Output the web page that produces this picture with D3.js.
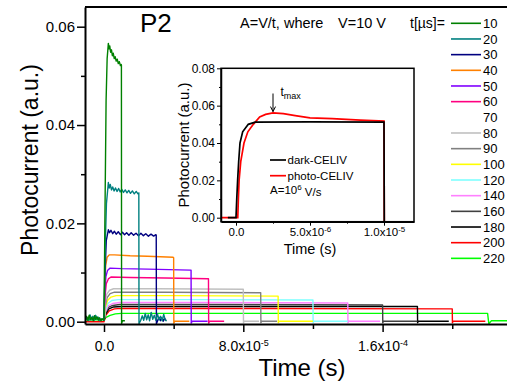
<!DOCTYPE html>
<html><head><meta charset="utf-8">
<script src="https://cdn.jsdelivr.net/npm/d3@7"></script>
<style>
body{margin:0;background:#fff;}
svg{display:block;font-family:"Liberation Sans",Arial,sans-serif;}
</style>
</head><body>
<svg id="c" width="507" height="387"></svg>
<script>
// ---------- DATA ----------
const durations = [10,20,30,40,50,60,70,80,90,100,120,140,160,180,200,220];   // t [µs]
const colors = ["#008000","#008080","#000080","#ff8000","#8000ff","#ff0080","#ffffff","#c0c0c0",
                "#808080","#ffff00","#80ffff","#ff80ff","#404040","#000000","#ff0000","#00ff00"];

// traces: [time (µs), photocurrent (a.u.)]
const trace10 = [[-11,0.0005],[-10,0.0011],[-9.3,0.0003],[-8.5,0.0013],[-7.8,0.0004],[-7,0.0009],[-6.2,0.0002],[-5.5,0.0012],[-4.8,0.0005],[-4,0.001],[-3.2,0.0003],[-2.5,0.0008],[-1.7,0.0002],[-1,0.0006],[0,0.0003],[0.5,0.02],[1.2,0.045],[1.8,0.0535],[2.5,0.0566],[2.9,0.0555],[3.3,0.0561],[3.8,0.0548],[4.3,0.0553],[4.8,0.0541],[5.3,0.0546],[5.9,0.0535],[6.4,0.0539],[7,0.053],[7.6,0.0534],[8.2,0.0525],[8.8,0.0529],[9.4,0.0521],[9.9,0.0523],[10,0.0522],[10.1,-0.0004],[10.6,0.0002],[12,0.0002]];
const trace20 = [[-11,0.0003],[-9.5,0.0008],[-8.8,0.0002],[-8,0.0014],[-7.2,0.0004],[-6.4,0.0011],[-5.6,0.0003],[-4.8,0.0013],[-4,0.0005],[-3.2,0.0009],[-2.4,0.0002],[-1.5,0.0006],[0,0.0003],[0.6,0.014],[1.4,0.024],[2.5,0.0283],[3,0.0272],[3.6,0.0279],[4.3,0.0268],[5,0.0274],[5.8,0.0266],[6.6,0.0272],[7.5,0.0265],[8.4,0.0271],[9.3,0.0264],[10.2,0.0269],[11.2,0.0263],[12.2,0.0268],[13.2,0.0262],[14.2,0.0267],[15.2,0.0261],[16.3,0.0266],[17.4,0.026],[18.5,0.0265],[19.5,0.026],[20,0.0262],[20.1,-0.0004],[21,0.0002],[22,0.0012],[22.8,0.0003],[23.7,0.0017],[24.5,0.0004],[25.4,0.0014],[26.2,0.0002],[27.1,0.0019],[28,0.0005],[28.9,0.0013],[29.8,0.0003],[30.7,0.0016],[31.6,0.0004],[32.5,0.0011],[33.4,0.0002],[34.3,0.0015],[35.2,0.0003],[36,0.0002]];
const trace30 = [[0,0.0002],[0.5,0.009],[1.3,0.0165],[2.5,0.0187],[3.2,0.0181],[4,0.0186],[5,0.0179],[6,0.0184],[7,0.0178],[8.2,0.0183],[9.4,0.0177],[10.6,0.0182],[11.8,0.0177],[13,0.0181],[14.3,0.0176],[15.6,0.0181],[17,0.0176],[18.4,0.018],[19.8,0.0175],[21.2,0.018],[22.6,0.0175],[24,0.0179],[25.5,0.0174],[27,0.0178],[28.5,0.0174],[29.8,0.0177],[30,0.0176],[30.1,-0.0004],[30.8,0.0002],[31.6,0.0009],[32.4,0.0002],[33.2,0.0008],[34,0.0001],[34.8,0.0007],[35.6,0.0002]];
const trace40 = [[0,0.0002],[0.4,0.007],[1,0.0115],[1.8,0.0131],[3,0.0136],[6,0.0136],[15,0.0134],[25,0.0133],[39.7,0.0131],[40,0.013],[40.1,-0.0003],[40.6,0.0001],[49,0.0001]];
const trace50 = [[0,0.0002],[0.4,0.0055],[1.1,0.0092],[2,0.0104],[3.5,0.0109],[10,0.0108],[25,0.0107],[49.7,0.0105],[50,0.0105],[50.1,-0.0003],[50.6,0.0001],[59.5,0.0001]];
const trace60 = [[0,0.0002],[0.5,0.0048],[1.3,0.0077],[2.5,0.0087],[4,0.0091],[15,0.009],[35,0.0089],[59.7,0.00875],[60,0.00875],[60.1,-0.0003],[60.6,0.0001],[69,0.0001]];
const trace70 = [[0,0.0002],[0.6,0.004],[1.5,0.0065],[3,0.0074],[5,0.0077],[69.7,0.0075],[70,0.0075],[70.1,0],[78,0]];
const trace80 = [[0,0.0002],[0.6,0.0035],[1.6,0.0056],[3.2,0.0064],[5.5,0.0067],[30,0.0067],[79.7,0.0066],[80,0.0066],[80.1,-0.0002],[80.6,0.0001],[89,0.0001]];
const trace90 = [[0,0.0002],[0.6,0.003],[1.8,0.0049],[3.5,0.0057],[6,0.006],[35,0.006],[89.7,0.0059],[90,0.0059],[90.1,-0.0002],[90.6,0.0001],[99.4,0.0001]];
const trace100 = [[0,0.0002],[0.7,0.0027],[2,0.0043],[4,0.005],[7,0.0053],[40,0.0053],[99.7,0.0052],[100,0.0052],[100.1,-0.0002],[100.6,0.0001],[120,0.0001]];
const trace120 = [[0,0.0002],[0.8,0.0023],[2.2,0.0037],[4.5,0.0043],[8,0.0045],[50,0.0045],[119.7,0.0044],[120,0.0044],[120.1,-0.0002],[120.6,0.0001],[140,0.0001]];
const trace140 = [[0,0.0002],[0.8,0.002],[2.4,0.0032],[5,0.0037],[9,0.0039],[60,0.0039],[139.7,0.0038],[140,0.0038],[140.1,-0.0002],[140.6,0.0001],[158.5,0.0001]];
const trace160 = [[0,0.0002],[0.9,0.0018],[2.5,0.0029],[5,0.0033],[9,0.0035],[70,0.0035],[159.7,0.0034],[160,0.0034],[160.1,-0.0002],[160.6,0.0001],[180,0.0001]];
const trace180 = [[0,0.0002],[1,0.0016],[2.8,0.0026],[5.5,0.003],[10,0.0031],[80,0.0031],[179.7,0.0031],[180,0.0031],[180.1,-0.0002],[180.6,0.0001],[198,0.0001]];
const trace200 = [[-11,0],[0,0],[1,0.0013],[3,0.0022],[6,0.0026],[10,0.0027],[90,0.0027],[199.7,0.0026],[200,0.0026],[200.1,-0.0002],[200.6,0.0001],[219,0.0001]];
const trace220 = [[-11,0.0004],[0,0.0004],[1.2,0.0009],[3.5,0.0013],[6.5,0.0016],[10,0.0017],[100,0.0017],[220.3,0.0017],[221,-0.0004],[222.5,0.0002],[240,0.0002]];
const traces = [trace10,trace20,trace30,trace40,trace50,trace60,trace70,trace80,trace90,trace100,trace120,trace140,trace160,trace180,trace200,trace220];

const mainYTicks = [0,0.02,0.04,0.06];
const mainYMinor = [0.01,0.03,0.05];
const mainXTicks = [0,8e-5,1.6e-4];
const mainXMinor = [4e-5,1.2e-4,2e-4];

// inset: [time (µs), photocurrent]
const darkCeliv = [[-0.55,0],[0,0],[0.05,0.01],[0.11,0.02],[0.18,0.03],[0.27,0.04],[0.45,0.046],[0.83,0.05],[1.3,0.0512],[5,0.0513],[10,0.0512],[10.02,-0.003]];
const photoCeliv = [[-1.1,0],[0.12,0],[0.16,0.01],[0.21,0.02],[0.32,0.03],[0.54,0.04],[0.8,0.046],[1.17,0.05],[1.6,0.054],[2,0.0553],[2.5,0.0561],[3.2,0.0557],[4,0.0547],[5,0.0535],[6.5,0.053],[8.4,0.0522],[10,0.0517],[10.02,-0.003]];
const insetYTicks = [0,0.02,0.04,0.06,0.08];
const insetYMinor = [0.01,0.03,0.05,0.07];
const insetXTicks = [0,5e-6,1e-5];
const insetXMinor = [2.5e-6,7.5e-6];
const tMax = 2.5e-6;

// ---------- CHART ----------
const svg = d3.select("#c");
const FONT = '"Liberation Sans",Arial,sans-serif';

const x = d3.scaleLinear().domain([0,1.6e-4]).range([104,382.6]);
x.domain([x.invert(85), x.invert(512)]).range([85,512]);
const y = d3.scaleLinear().domain([0,0.06]).range([321.7,26.7]);
y.domain([y.invert(324), y.invert(7)]).range([324,7]);

svg.append("clipPath").attr("id","mainClip").append("rect")
  .attr("x",85).attr("y",7).attr("width",430).attr("height",317);

const line = d3.line().x(d=>x(d[0]*1e-6)).y(d=>y(d[1]));
const gData = svg.append("g").attr("clip-path","url(#mainClip)");
const order = [6].concat(d3.range(15,-1,-1).filter(i=>i!==6));
order.forEach(i=>{
  gData.append("path").datum(traces[i]).attr("d",line)
    .attr("fill","none").attr("stroke",colors[i]).attr("stroke-width",1.4)
    .attr("stroke-linejoin","round");
});

function sci(d){
  if(d===0) return ["0.0",null];
  const e = Math.floor(Math.log10(Math.abs(d))+1e-9);
  const m = d/Math.pow(10,e);
  return [m.toFixed(1)+"x10", String(e)];
}
function styleAxis(g, fs, sw){
  g.attr("font-family",FONT).attr("font-size",fs);
  g.selectAll("text").attr("fill","#000");
  g.select(".domain").attr("stroke","#000").attr("stroke-width",sw);
  g.selectAll(".tick line").attr("stroke","#000").attr("stroke-width",1.5);
}
function sciLabels(g, supSize){
  g.selectAll(".tick text").each(function(d){
    const t = d3.select(this); t.text(null);
    const [m,e] = sci(d);
    t.append("tspan").text(m);
    if(e!==null) t.append("tspan").attr("dy","-0.5em").attr("font-size",supSize).text(e);
  });
}

// main axes
const gyMinor = svg.append("g").attr("transform","translate(85,0)")
  .call(d3.axisLeft(y).tickValues(mainYMinor).tickSize(4).tickFormat(""));
gyMinor.select(".domain").remove();
gyMinor.selectAll(".tick line").attr("stroke","#000").attr("stroke-width",1.5);
const gy = svg.append("g").attr("transform","translate(85,0)")
  .call(d3.axisLeft(y).tickValues(mainYTicks).tickSize(8).tickSizeOuter(0).tickPadding(2).tickFormat(d3.format(".2f")));
styleAxis(gy,15,2);

const gxMinor = svg.append("g").attr("transform","translate(0,324)")
  .call(d3.axisBottom(x).tickValues(mainXMinor).tickSize(5).tickFormat(""));
gxMinor.select(".domain").remove();
gxMinor.selectAll(".tick line").attr("stroke","#000").attr("stroke-width",1.5);
const gx = svg.append("g").attr("transform","translate(0,324)")
  .call(d3.axisBottom(x).tickValues(mainXTicks).tickSize(8).tickSizeOuter(0).tickPadding(9));
styleAxis(gx,14,2);
sciLabels(gx,9);

svg.append("line").attr("x1",85).attr("x2",512).attr("y1",7).attr("y2",7)
  .attr("stroke","#000").attr("stroke-width",2);

svg.append("text").attr("transform","translate(38,160) rotate(-90)")
  .attr("text-anchor","middle").attr("font-size",23).attr("font-family",FONT)
  .text("Photocurrent (a.u.)");
svg.append("text").attr("x",302).attr("y",376).attr("text-anchor","middle")
  .attr("font-size",24).attr("font-family",FONT).text("Time (s)");
svg.append("text").attr("x",140).attr("y",31.5).attr("font-size",26)
  .attr("font-family",FONT).text("P2");
svg.append("text").attr("x",240).attr("y",28.3).attr("font-size",14.5)
  .attr("font-family",FONT).text("A=V/t, where");
svg.append("text").attr("x",338).attr("y",28.3).attr("font-size",14.5)
  .attr("font-family",FONT).text("V=10 V");

// legend
svg.append("text").attr("x",410).attr("y",28).attr("font-size",14)
  .attr("font-family",FONT).text("t[µs]=");
durations.forEach((d,i)=>{
  const ly = 23.3 + i*15.67;
  svg.append("line").attr("x1",451).attr("x2",481).attr("y1",ly).attr("y2",ly)
    .attr("stroke",colors[i]).attr("stroke-width",1.6);
  svg.append("text").attr("x",483).attr("y",ly+4.7).attr("font-size",13)
    .attr("font-family",FONT).text(d);
});

// ---------- INSET ----------
const xi = d3.scaleLinear().domain([0,1e-5]).range([236,384]);
xi.domain([xi.invert(221), xi.invert(414)]).range([221,414]);
const yi = d3.scaleLinear().domain([0,0.08]).range([217.7,68.3]);
yi.domain([yi.invert(221.7), yi.invert(68.3)]).range([221.7,68.3]);

svg.append("rect").attr("x",221).attr("y",68.3).attr("width",193).attr("height",153.4)
  .attr("fill","#fff");
svg.append("clipPath").attr("id","insetClip").append("rect")
  .attr("x",221).attr("y",68.3).attr("width",193).attr("height",153.4);
const lineI = d3.line().x(d=>xi(d[0]*1e-6)).y(d=>yi(d[1]));
const gI = svg.append("g").attr("clip-path","url(#insetClip)");
gI.append("path").datum(photoCeliv).attr("d",lineI).attr("fill","none")
  .attr("stroke","#ff0000").attr("stroke-width",1.7);
gI.append("path").datum(darkCeliv).attr("d",lineI).attr("fill","none")
  .attr("stroke","#000").attr("stroke-width",1.7);

const giyMinor = svg.append("g").attr("transform","translate(221,0)")
  .call(d3.axisLeft(yi).tickValues(insetYMinor).tickSize(2).tickFormat(""));
giyMinor.select(".domain").remove();
giyMinor.selectAll(".tick line").attr("stroke","#000").attr("stroke-width",1);
const giy = svg.append("g").attr("transform","translate(221,0)")
  .call(d3.axisLeft(yi).tickValues(insetYTicks).tickSize(4).tickSizeOuter(0).tickPadding(2).tickFormat(d3.format(".2f")));
styleAxis(giy,12,1.5);
giy.selectAll(".tick line").attr("stroke-width",1);
const gixMinor = svg.append("g").attr("transform","translate(0,221.7)")
  .call(d3.axisBottom(xi).tickValues(insetXMinor).tickSize(2).tickFormat(""));
gixMinor.select(".domain").remove();
gixMinor.selectAll(".tick line").attr("stroke","#000").attr("stroke-width",1);
const gix = svg.append("g").attr("transform","translate(0,221.7)")
  .call(d3.axisBottom(xi).tickValues(insetXTicks).tickSize(4).tickSizeOuter(0).tickPadding(2));
styleAxis(gix,11.5,1.5);
gix.selectAll(".tick line").attr("stroke-width",1);
sciLabels(gix,8);
svg.append("rect").attr("x",221).attr("y",68.3).attr("width",193).attr("height",153.4)
  .attr("fill","none").attr("stroke","#000").attr("stroke-width",1.5);

svg.append("text").attr("transform","translate(189,145) rotate(-90)")
  .attr("text-anchor","middle").attr("font-size",15).attr("font-family",FONT)
  .text("Photocurrent (a.u.)");
svg.append("text").attr("x",310).attr("y",254).attr("text-anchor","middle")
  .attr("font-size",14.5).attr("font-family",FONT).text("Time (s)");

// inset legend
[["dark-CELIV","#000"],["photo-CELIV","#ff0000"]].forEach((e,i)=>{
  const ly = 160 + i*15.7;
  svg.append("line").attr("x1",270).attr("x2",286).attr("y1",ly).attr("y2",ly)
    .attr("stroke",e[1]).attr("stroke-width",1.7);
  svg.append("text").attr("x",287.5).attr("y",ly+4.3).attr("font-size",11.5)
    .attr("font-family",FONT).text(e[0]);
});
const aTxt = svg.append("text").attr("x",270).attr("y",194).attr("font-size",11.5)
  .attr("font-family",FONT);
aTxt.append("tspan").text("A=10");
aTxt.append("tspan").attr("dy","-0.45em").attr("font-size",8).text("6");
aTxt.append("tspan").attr("dy","0.45em").text(" V/s");

// t_max arrow
const ax = xi(tMax);
svg.append("line").attr("x1",ax).attr("x2",ax).attr("y1",yi(0.0665)).attr("y2",yi(0.0568))
  .attr("stroke","#000").attr("stroke-width",1);
svg.append("path").attr("d",`M${ax-2.5},${yi(0.0595)} L${ax},${yi(0.0568)} L${ax+2.5},${yi(0.0595)}`)
  .attr("fill","none").attr("stroke","#000").attr("stroke-width",1);
const tm = svg.append("text").attr("x",280.5).attr("y",95.5).attr("font-size",12)
  .attr("font-family",FONT);
tm.append("tspan").text("t");
tm.append("tspan").attr("dy","3.5").attr("font-size",9).text("max");
</script>
</body></html>
